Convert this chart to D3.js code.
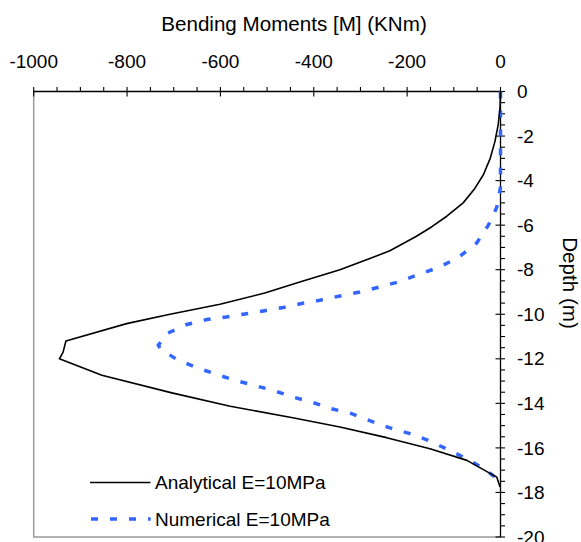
<!DOCTYPE html>
<html><head><meta charset="utf-8">
<script src="https://cdn.jsdelivr.net/npm/d3@7"></script>
<style>
html,body{margin:0;padding:0;background:#fff;}
svg{display:block;font-family:"Liberation Sans",Arial,sans-serif;}
</style></head>
<body>
<svg id="chart" width="581" height="542"></svg>
<script>
// Depth (m, positive downward) and bending moment (kNm)
const analyticalDepth = [0,0.75,1.5,2.25,3.0,3.75,4.35,5.0,5.6,6.07,6.5,7.15,7.5,8.0,8.55,9.05,9.55,10.0,10.42,11.2,11.7,12.0,12.74,13.53,14.13,14.65,15.06,15.54,16.04,16.56,17.31,17.76];
const analyticalM =     [0,-1,-5,-12,-22,-37,-55,-80,-115,-147,-180,-237,-280,-344,-430,-505,-601,-708,-801,-931,-937,-945,-854,-704,-579,-445,-344,-244,-151,-72,-8,-1];
const numericalDepth = [0,4.3,5.2,6.0,6.8,7.45,7.9,8.22,8.55,8.77,9.0,9.18,9.37,9.52,9.7,9.85,10.0,10.12,10.24,10.46,10.87,11.39,11.57,12.02,12.4,12.7,12.97,13.2,13.42,13.72,13.97,14.24,14.46,14.81,15.1,15.36,15.66,16.08,16.52,17.01,17.38,17.76];
const numericalM =     [0,0,-8,-26,-51,-90,-133,-176,-219,-258,-301,-344,-387,-426,-465,-508,-551,-587,-629,-672,-715,-733,-728,-694,-651,-608,-569,-526,-487,-444,-401,-362,-319,-276,-237,-194,-155,-112,-69,-30,-8,0];
const xTicks = [-1000,-800,-600,-400,-200,0];
const yTicks = [0,-2,-4,-6,-8,-10,-12,-14,-16,-18,-20];
const seriesNames = ["Analytical E=10MPa","Numerical E=10MPa"];
const xTitle = "Bending Moments [M] (KNm)";
const yTitle = "Depth (m)";

const svg = d3.select("#chart");
const L = 33.7, R = 500.5, T = 91.5, B = 537;
const x = d3.scaleLinear().domain([-1000,0]).range([L,R]);
const y = d3.scaleLinear().domain([0,-20]).range([T,B]);
const FS = 19, TFS = 20.6;

// frame (left & bottom grey)
svg.append("path").attr("d",`M${L},${T}V${B}H${R}`).attr("fill","none")
  .attr("stroke","#9a9a9a").attr("stroke-width",1.5);

// top axis
const gx = svg.append("g");
gx.append("line").attr("x1",L).attr("x2",R).attr("y1",T).attr("y2",T).attr("stroke","#000").attr("stroke-width",1.3);
d3.range(-1000,1,50).forEach(v=>{
  const major = v%200===0;
  gx.append("line").attr("x1",x(v)).attr("x2",x(v))
    .attr("y1",T-4.5).attr("y2",major?T+5:T).attr("stroke","#000").attr("stroke-width",1.1);
});
gx.selectAll("text.tl").data(xTicks).join("text").attr("class","tl")
  .attr("x",d=>x(d)).attr("y",68).attr("text-anchor","middle")
  .attr("font-size",FS).attr("fill","#000").text(d=>d);
svg.append("text").attr("x",294).attr("y",31).attr("text-anchor","middle")
  .attr("font-size",TFS).attr("fill","#000").text(xTitle);

// right axis
const gy = svg.append("g");
gy.append("line").attr("x1",R).attr("x2",R).attr("y1",T).attr("y2",B).attr("stroke","#000").attr("stroke-width",1.3);
d3.range(0,20.01,0.5).forEach(v=>{
  const major = Math.abs(v%2)<1e-9;
  gy.append("line").attr("y1",y(-v)).attr("y2",y(-v))
    .attr("x1",major?R-5:R).attr("x2",R+4.5).attr("stroke","#000").attr("stroke-width",1.1);
});
gy.selectAll("text.yl").data(yTicks).join("text").attr("class","yl")
  .attr("x",517).attr("y",d=>y(d)).attr("dy","0.35em").attr("text-anchor","start")
  .attr("font-size",FS).attr("fill","#000").text(d=>d);
svg.append("text").attr("transform","translate(563,283) rotate(90)")
  .attr("text-anchor","middle").attr("font-size",TFS).attr("fill","#000").text(yTitle);

// series
const line = d3.line().x(d=>x(d[1])).y(d=>y(-d[0]));
const aData = analyticalDepth.map((d,i)=>[d,analyticalM[i]]);
const nData = numericalDepth.map((d,i)=>[d,numericalM[i]]);
svg.append("path").datum(nData).attr("d",line).attr("fill","none")
  .attr("stroke","#3366ff").attr("stroke-width",3.5).attr("stroke-dasharray","7,12");
svg.append("path").datum(aData).attr("d",line).attr("fill","none")
  .attr("stroke","#000").attr("stroke-width",1.6).attr("stroke-linejoin","round");

// legend
const lg = svg.append("g");
lg.append("line").attr("x1",90).attr("x2",150.5).attr("y1",482.5).attr("y2",482.5).attr("stroke","#000").attr("stroke-width",1.6);
lg.append("line").attr("x1",91).attr("x2",150.7).attr("y1",519).attr("y2",519)
  .attr("stroke","#3366ff").attr("stroke-width",3.5).attr("stroke-dasharray","7,12");
lg.append("text").attr("x",155).attr("y",482.5).attr("dy","0.35em").attr("font-size",FS).attr("fill","#000").text(seriesNames[0]);
lg.append("text").attr("x",155).attr("y",519).attr("dy","0.35em").attr("font-size",FS).attr("fill","#000").text(seriesNames[1]);
</script>
</body></html>
